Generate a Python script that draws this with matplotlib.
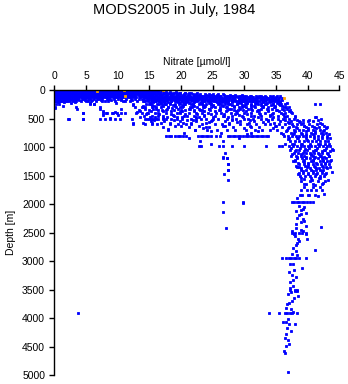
import matplotlib
matplotlib.use("Agg")
import matplotlib.pyplot as plt

plt.rcParams['font.family'] = ['Liberation Sans', 'DejaVu Sans']

# nitrate [umol/l] observed at each sampled depth [m]
levels = [0, 10, 20, 30, 50, 60, 75, 90, 100, 110, 115, 125, 135, 140, 150,
          160, 165, 175, 185, 190, 200, 210, 225, 240, 250, 260, 275, 290,
          300, 325, 350, 375, 400, 425, 450, 475, 500, 525, 550, 575, 600,
          625, 650, 675, 700, 725, 750, 775, 805, 850, 900, 950, 988, 1025,
          1050, 1075, 1100, 1125, 1150, 1175, 1200, 1225, 1250, 1275, 1300,
          1325, 1350, 1375, 1400, 1425, 1450, 1475, 1500, 1550, 1600, 1650,
          1700, 1750, 1850, 1960, 2500, 2950, 3500, 3920]

level_no3 = [
    # 0
    [0.0, 0.3, 0.6, 0.8, 1.1, 1.4, 1.7, 2.0, 2.2, 2.5, 2.8, 3.1, 3.4, 3.7, 3.9,
     4.2, 4.5, 4.8, 5.1, 5.3, 5.6, 5.9, 6.2, 6.5, 6.8, 7.0, 7.3, 7.6, 7.9, 8.2,
     8.5, 8.7, 9.0, 9.3, 9.6, 9.9, 10.2, 10.4, 10.7, 11.0, 11.3, 11.6, 11.9,
     12.1, 12.4, 12.7, 13.0, 13.3, 13.7, 14.2, 15.0],
    # 10
    [0.4, 1.9, 3.3, 5.2, 7.7, 9.4, 11.8, 13.5, 14.6, 15.6, 16.2],
    # 20
    [0.1, 0.4, 0.7, 1.0, 1.3, 1.5, 1.8, 2.1, 2.4, 2.7, 3.0, 3.2, 3.5, 3.8, 4.1,
     4.4, 4.7, 4.9, 5.2, 5.5, 5.8, 6.1, 6.4, 6.6, 6.9, 7.2, 7.5, 7.8, 8.1, 8.3,
     8.6, 8.9, 9.2, 9.5, 9.8, 10.0, 10.3, 10.6, 10.9, 11.2, 11.5, 11.7, 12.0,
     12.3, 12.6, 12.9, 13.2, 13.4, 13.8, 14.1, 14.5, 14.8, 15.2, 15.6, 15.9,
     16.4, 17.0],
    # 30
    [0.2, 2.9, 6.0, 8.8, 12.2, 14.3, 15.4, 16.7, 17.6, 18.3, 19.2],
    # 50
    [0.0, 0.3, 0.6, 0.9, 1.2, 1.4, 1.7, 2.0, 2.3, 2.6, 2.9, 3.1, 3.4, 3.7, 4.0,
     4.3, 4.6, 4.8, 5.1, 5.4, 5.7, 6.0, 6.3, 6.5, 6.8, 7.1, 7.4, 7.7, 8.0, 8.2,
     8.5, 8.8, 9.1, 9.4, 9.7, 9.9, 10.2, 10.5, 10.8, 11.1, 11.4, 11.6, 11.9,
     12.2, 12.5, 12.8, 13.1, 13.4, 13.7, 14.0, 14.4, 14.7, 15.1, 15.5, 15.8,
     16.2, 16.6, 17.3, 17.7, 18.1, 18.8, 19.4, 19.9, 20.6, 21.3],
    # 60
    [14.2, 15.0, 15.8, 16.5, 17.4, 18.2, 19.0, 19.8, 20.7, 21.6, 22.5],
    # 75
    [0.1, 0.4, 0.7, 1.0, 1.3, 1.6, 1.8, 2.1, 2.4, 2.7, 3.0, 3.3, 3.5, 3.8, 4.1,
     4.4, 4.7, 5.0, 5.2, 5.5, 5.8, 6.1, 6.4, 6.7, 6.9, 7.2, 7.5, 7.8, 8.1, 8.4,
     8.6, 8.9, 9.2, 9.5, 9.8, 10.1, 10.3, 10.6, 10.9, 11.2, 11.5, 11.8, 12.0,
     12.3, 12.6, 12.9, 13.2, 13.5, 13.9, 14.2, 14.6, 14.9, 15.3, 15.7, 16.0,
     16.5, 16.9, 17.2, 17.8, 18.4, 18.7, 19.3, 19.8, 20.5, 21.1, 21.9, 22.4,
     23.0, 23.8, 24.4, 25.1, 25.9, 26.6],
    # 90
    [14.4, 15.3, 16.0, 16.9, 17.8, 18.5, 19.4, 20.4, 21.2, 22.1, 22.9, 23.9,
     24.8, 25.7, 26.8, 27.7, 28.6, 29.7],
    # 100
    [0.0, 0.3, 0.6, 0.9, 1.2, 1.5, 1.7, 2.0, 2.3, 2.6, 2.9, 3.2, 3.4, 3.7, 4.0,
     4.3, 4.6, 4.9, 5.1, 5.4, 5.7, 6.0, 6.3, 6.6, 6.8, 7.1, 7.4, 7.7, 8.0, 8.3,
     8.5, 8.8, 9.1, 9.4, 9.7, 10.0, 10.2, 10.5, 10.8, 11.1, 11.4, 11.7, 12.1,
     12.5, 12.8, 13.3, 13.7, 14.0, 14.6, 15.0, 15.4, 16.1, 16.4, 17.0, 17.5,
     18.2, 18.6, 19.1, 19.7, 20.2, 20.8, 21.5, 22.0, 22.7, 23.3, 23.7, 24.3,
     25.0, 25.4, 26.1, 26.9, 27.4, 28.2, 28.7, 29.5, 30.3, 31.1, 32.6, 34.0,
     35.1],
    # 110
    [13.8, 14.9, 15.6, 16.7, 17.6, 18.4, 19.3, 20.5, 21.1, 22.3, 23.1, 24.2,
     25.0, 26.2, 27.2, 28.1, 29.1, 30.0, 30.9, 31.8, 32.4, 33.2, 34.6, 35.6],
    # 115
    [14.7, 15.9, 17.3, 18.6, 19.9, 21.4, 22.8, 24.0, 25.6, 27.1, 28.5, 29.8,
     31.4, 32.9, 34.3],
    # 125
    [0.1, 0.4, 0.7, 1.0, 1.2, 1.5, 1.8, 2.1, 2.4, 2.7, 3.0, 3.3, 3.5, 3.8, 4.1,
     4.4, 4.7, 5.0, 5.2, 5.5, 5.8, 6.1, 6.4, 6.7, 7.0, 7.3, 7.6, 7.9, 8.2, 8.4,
     8.8, 9.3, 9.6, 9.9, 10.4, 10.7, 11.0, 11.6, 11.9, 12.4, 12.9, 13.6, 14.1,
     14.4, 15.2, 15.6, 16.3, 16.8, 17.6, 18.0, 18.9, 19.4, 20.0, 20.7, 21.3,
     21.8, 22.5, 23.1, 23.9, 24.6, 25.2, 25.8, 26.4, 27.0, 27.8, 28.4, 29.0,
     29.9, 30.6, 31.2, 32.0, 32.5, 33.4, 34.2, 35.0],
    # 135
    [14.6, 15.4, 16.6, 17.2, 18.5, 19.1, 20.3, 21.1, 22.0, 22.9, 24.0, 24.7,
     25.5, 26.6, 27.3, 28.2, 29.4, 30.1, 31.0, 31.9, 32.8, 33.8, 34.7, 35.5],
    # 140
    [15.0, 16.4, 17.9, 19.2, 20.8, 22.1, 23.5, 24.9, 26.3, 27.6, 29.2, 30.7,
     32.2, 33.6, 35.9],
    # 150
    [0.0, 0.3, 0.6, 0.9, 1.2, 1.5, 1.8, 2.0, 2.3, 2.6, 2.9, 3.2, 3.5, 3.8, 4.3,
     4.6, 4.9, 5.4, 5.7, 6.2, 6.8, 7.1, 7.6, 8.3, 8.7, 9.4, 10.0, 10.6, 11.3,
     12.1, 12.7, 13.4, 14.2, 14.9, 15.5, 16.2, 16.9, 17.4, 18.1, 18.8, 19.6,
     20.4, 21.0, 21.7, 22.3, 23.0, 23.6, 24.5, 25.1, 26.0, 26.7, 27.5, 28.3,
     29.1, 29.6, 30.4, 31.3, 31.9, 32.6, 33.5, 34.4, 35.4],
    # 160
    [13.9, 15.7, 16.6, 18.3, 19.7, 21.2, 22.6, 24.0, 25.5, 26.9, 28.0, 29.9,
     31.6, 33.1, 34.8],
    # 165
    [0.5, 1.5, 2.4, 3.4, 14.8, 15.9, 16.8, 17.6, 18.8, 19.9, 20.6, 21.6, 22.4,
     23.3, 24.4, 25.3, 26.2, 27.2, 28.2, 29.1, 30.0, 30.9, 31.9, 32.9, 33.9,
     34.9],
    # 175
    [0.0, 0.4, 0.8, 1.3, 1.7, 2.2, 2.6, 3.1, 3.9, 4.8, 6.0, 7.4, 9.0, 10.5,
     12.3, 14.6, 15.4, 16.1, 17.0, 17.8, 18.5, 19.4, 20.2, 21.0, 21.9, 22.7,
     23.5, 24.3, 25.1, 26.0, 26.8, 27.6, 28.5, 29.3, 30.2, 31.0, 31.8, 32.7,
     33.5, 34.3, 35.2, 36.0],
    # 185
    [0.2, 1.1, 2.0, 14.1, 15.2, 16.5, 17.3, 18.4, 19.5, 20.9, 21.6, 22.5, 23.6,
     24.6, 25.6, 26.6, 27.5, 28.8, 29.9, 30.8, 32.0, 33.2, 34.2, 35.3],
    # 190
    [5.3, 8.0, 11.1, 14.3, 15.9, 17.6, 19.0, 20.6, 22.0, 23.7, 25.0, 26.5,
     28.1, 29.7, 31.4, 33.0, 34.6],
    # 200
    [0.0, 0.3, 0.7, 1.0, 1.4, 1.8, 2.3, 2.9, 3.5, 4.2, 5.0, 5.8, 6.6, 7.5, 8.5,
     9.6, 10.8, 11.9, 13.1, 14.0, 14.8, 15.7, 16.6, 17.3, 18.4, 19.2, 20.0,
     21.1, 22.2, 23.4, 24.1, 25.3, 26.2, 27.1, 28.6, 29.4, 30.0, 31.2, 32.3,
     33.0, 33.9, 34.8, 35.7],
    # 210
    [0.6, 1.6, 3.2, 15.6, 16.9, 18.0, 19.5, 20.8, 22.0, 23.2, 24.6, 25.7, 26.9,
     28.1, 29.2, 30.5, 31.7, 32.9, 34.1, 35.3],
    # 225
    [2.6, 9.8, 15.1, 16.8, 18.2, 19.9, 21.3, 23.0, 24.4, 26.0, 27.4, 29.0,
     30.4, 32.0, 33.6, 35.1, 36.7],
    # 240
    [14.9, 16.2, 17.7, 19.1, 20.5, 21.9, 23.3, 24.8, 26.1, 27.5, 28.9, 30.3,
     31.7, 33.2, 34.5, 35.8],
    # 250
    [0.2, 0.8, 5.6, 6.3, 12.5, 14.5, 15.3, 16.6, 17.5, 18.3, 19.7, 20.6, 21.6,
     22.8, 23.9, 24.7, 25.8, 27.0, 27.8, 28.9, 30.1, 31.0, 32.2, 33.4, 34.6,
     35.5, 36.4, 41.2, 41.9],
    # 260
    [15.5, 17.0, 18.8, 20.1, 21.9, 23.5, 25.0, 26.5, 28.0, 29.6, 31.1, 32.6,
     34.2, 35.7],
    # 275
    [1.4, 14.0, 15.8, 17.2, 19.0, 20.4, 22.1, 23.8, 25.1, 26.7, 28.3, 29.9,
     31.5, 33.0, 34.8, 36.0],
    # 290
    [14.3, 16.1, 18.0, 19.8, 21.7, 23.6, 25.4, 27.3, 29.1, 31.0, 32.8, 34.7,
     36.6],
    # 300
    [0.1, 3.5, 7.2, 12.8, 14.0, 15.4, 16.8, 17.9, 19.2, 20.1, 21.4, 22.6, 23.5,
     24.8, 26.2, 27.1, 28.4, 29.6, 30.3, 31.7, 32.9, 33.8, 34.9, 36.2, 37.1],
    # 325
    [14.4, 16.0, 17.8, 19.6, 21.2, 22.9, 24.4, 26.1, 27.9, 29.4, 31.0, 32.7,
     34.4, 35.9],
    # 350
    [13.3, 14.9, 16.3, 17.6, 18.9, 20.7, 22.0, 23.4, 24.6, 26.0, 27.2, 28.4,
     29.8, 31.2, 32.4, 33.7, 35.0, 36.3, 37.2],
    # 375
    [13.6, 15.2, 17.1, 18.4, 20.2, 22.0, 23.6, 25.4, 27.1, 28.7, 30.2, 32.0,
     33.7, 35.5, 37.0],
    # 400
    [4.6, 7.7, 8.3, 9.1, 9.9, 10.5, 12.9, 13.9, 14.8, 15.9, 16.4, 17.7, 19.3,
     19.8, 21.2, 22.4, 23.3, 24.2, 25.5, 26.4, 27.9, 28.8, 29.9, 31.0, 32.4,
     33.3, 34.6, 35.8, 36.5, 37.6],
    # 425
    [14.5, 16.6, 18.5, 20.7, 22.6, 24.7, 26.8, 28.6, 30.4, 32.5, 34.3, 36.1],
    # 450
    [14.1, 15.5, 17.1, 18.9, 20.5, 22.0, 23.6, 25.3, 26.7, 28.1, 29.6, 31.0,
     32.6, 34.0, 35.4, 36.8],
    # 475
    [15.1, 17.8, 20.2, 22.8, 25.0, 27.5, 29.8, 32.2, 34.6, 36.4, 41.4],
    # 500
    [2.2, 4.5, 7.2, 8.0, 8.8, 9.6, 10.4, 12.2, 14.3, 14.6, 15.0, 15.3, 15.6,
     16.0, 16.4, 17.2, 17.7, 18.4, 19.3, 20.1, 21.6, 22.4, 23.2, 24.0, 25.1,
     25.9, 27.2, 28.0, 28.7, 29.9, 30.6, 31.4, 32.7, 33.5, 34.4, 35.3, 36.1,
     37.0, 37.8],
    # 525
    [15.8, 18.9, 21.9, 24.9, 28.1, 30.9, 33.7, 36.5, 38.3, 40.2],
    # 550
    [15.2, 17.4, 19.8, 22.3, 24.7, 26.9, 29.3, 31.5, 33.8, 35.6, 37.3, 38.6,
     40.9],
    # 575
    [16.9, 20.4, 23.9, 27.6, 30.8, 34.7, 37.0, 39.3, 41.9],
    # 600
    [12.4, 14.3, 15.4, 16.2, 18.2, 19.6, 20.8, 21.6, 23.3, 25.4, 26.5, 27.6,
     29.4, 30.5, 31.9, 33.2, 34.1, 35.5, 36.4, 37.5, 38.4, 39.0, 40.2, 41.5,
     42.3],
    # 625
    [19.0, 22.9, 26.7, 30.9, 34.8, 37.7, 39.4, 40.7, 42.6],
    # 650
    [17.1, 21.2, 24.5, 28.2, 32.3, 36.0, 38.1, 39.8, 41.8, 43.0],
    # 675
    [23.5, 29.9, 34.6, 36.9, 38.4, 40.0, 41.4, 42.9],
    # 700
    [18.0, 22.2, 24.1, 25.7, 27.2, 28.6, 30.3, 31.7, 32.8, 34.0, 35.2, 36.8,
     37.9, 38.6, 39.3, 40.1, 40.8, 41.9, 42.6],
    # 725
    [24.7, 32.1, 36.6, 38.0, 39.7, 41.1, 42.4],
    # 750
    [20.5, 26.3, 31.1, 35.8, 37.3, 38.9, 40.5, 42.1],
    # 775
    [30.4, 36.1, 37.7, 39.1, 40.9, 42.5, 43.3],
    # 805
    [17.7, 18.1, 18.5, 19.1, 19.5, 19.9, 20.3, 20.8, 22.7, 23.1, 23.5, 23.9,
     24.3, 24.8, 25.6, 26.1, 27.4, 27.8, 28.2, 28.6, 29.0, 29.4, 29.8, 30.2,
     30.6, 31.0, 31.4, 31.8, 32.2, 32.6, 33.0, 33.4, 33.8, 36.3, 36.9, 37.5,
     38.1, 38.7, 39.3, 39.8, 40.3, 41.0, 41.6, 42.3, 43.1],
    # 850
    [21.2, 29.1, 37.0, 38.5, 39.8, 41.0, 42.3, 43.5],
    # 900
    [23.0, 26.6, 37.2, 38.0, 38.6, 39.5, 40.0, 40.7, 41.3, 42.0, 42.8, 43.2],
    # 950
    [24.8, 36.5, 37.9, 39.0, 40.3, 41.6, 42.7],
    # 988
    [22.8, 23.2, 26.0, 26.6, 28.1, 30.0, 33.5, 35.5, 36.0, 37.1, 37.7, 38.3,
     38.9, 39.4, 40.0, 40.6, 41.2, 41.8, 42.4, 43.0, 43.5],
    # 1025
    [37.4, 38.8, 40.2, 41.5, 42.9],
    # 1050
    [37.2, 38.6, 39.9, 41.3, 42.8, 44.0],
    # 1075
    [38.0, 39.4, 40.9, 42.2, 43.6],
    # 1100
    [27.0, 37.9, 38.5, 39.2, 39.8, 40.4, 41.0, 41.6, 42.3, 43.1],
    # 1125
    [37.6, 39.0, 40.5, 41.8, 43.2],
    # 1150
    [38.1, 39.4, 40.8, 42.1, 43.4],
    # 1175
    [38.3, 39.8, 41.2, 42.6],
    # 1200
    [26.7, 27.2, 38.4, 39.1, 39.7, 40.3, 41.0, 41.6, 42.2, 42.9],
    # 1225
    [38.0, 39.5, 40.9, 42.4, 43.7],
    # 1250
    [37.7, 39.3, 40.6, 41.9, 43.0],
    # 1275
    [38.5, 40.0, 41.4, 42.8],
    # 1300
    [27.4, 38.7, 39.5, 40.1, 40.9, 41.5, 42.1, 42.8, 43.4],
    # 1325
    [38.2, 39.6, 41.0, 42.3],
    # 1350
    [38.3, 39.9, 41.2, 42.4, 43.6],
    # 1375
    [38.9, 40.4, 41.8, 43.1],
    # 1400
    [27.4, 39.0, 39.8, 40.6, 41.3, 42.0, 42.5],
    # 1425
    [39.3, 40.8, 42.2],
    # 1450
    [38.6, 40.1, 41.5, 42.9],
    # 1475
    [38.5, 40.0, 41.4, 42.7],
    # 1500
    [38.8, 39.6, 40.4, 41.1, 41.9, 42.6],
    # 1550
    [39.0, 40.5, 41.8],
    # 1600
    [38.9, 40.3, 41.6, 42.8],
    # 1650
    [39.5, 40.9, 42.2],
    # 1700
    [39.4, 40.8, 42.0],
    # 1750
    [39.0, 39.9, 40.6, 41.4, 42.3],
    # 1850
    [38.8, 40.0, 41.2],
    # 1960
    [26.6, 29.8, 37.5, 37.9, 38.3, 38.7, 39.1, 39.5, 39.9, 40.4, 40.9],
    # 2500
    [37.5, 38.0, 38.6, 39.1, 39.8],
    # 2950
    [35.9, 36.6, 37.0, 37.4, 37.8, 38.2, 38.7, 39.8],
    # 3500
    [37.2, 38.0, 38.3],
    # 3920
    [3.8, 33.9, 35.5, 36.4, 36.8, 37.2, 37.6, 38.3],
]

# single samples off the regular depths
extra_no3 = [
    0.1, 2.3, 3.6, 4.6, 4.5, 5.6, 6.3, 7.2, 7.7, 7.7, 8.1, 8.8, 9.3, 9.6, 10.0,
    10.6, 11.2, 12.4, 12.5, 13.0, 13.5, 13.8, 14.0, 14.6, 15.4, 15.9, 17.2,
    18.0, 18.2, 19.3, 19.8, 20.9, 22.2, 21.6, 22.4,
    14.8, 16.1, 17.4, 18.9, 20.3, 21.8, 23.4, 24.9, 26.5, 28.0, 29.5, 31.0,
    32.6, 34.1, 35.7, 15.6, 17.0, 18.6, 20.0, 21.5, 23.0, 24.5, 26.1, 27.6,
    29.0, 30.6, 32.1, 33.6, 35.2, 36.8, 16.3, 18.8, 21.0, 23.7, 26.8, 29.2,
    31.6, 34.0, 36.3, 38.0, 24.5, 28.8, 33.0, 36.9, 38.8, 20.0, 24.0, 27.0,
    31.0, 35.0, 37.0, 39.5, 41.0, 38.0, 39.3, 40.1, 37.4, 41.2, 42.1, 41.6,
    37.8, 39.7, 41.2, 42.9, 36.9, 38.4, 39.9, 41.6, 43.0, 37.6, 39.1, 40.4,
    41.9, 43.4, 38.2, 39.6, 41.1, 42.6, 43.8, 37.4, 38.9, 40.6, 42.0, 43.3,
    38.0, 39.4, 40.8, 42.4, 43.6, 38.6, 40.0, 41.4, 42.9, 39.2, 40.9, 42.2,
    43.8, 39.4, 40.7, 42.0, 43.2, 39.8, 41.2, 42.5, 39.1, 40.2, 41.7, 42.6,
    38.4, 39.4, 38.9, 39.7, 38.6, 39.3, 38.9, 39.8, 42.1, 38.2, 37.5, 39.3,
    39.7, 38.0, 38.5, 39.9, 38.4, 37.7, 38.1, 41.2, 37.2, 37.7, 39.1, 37.5,
    37.7, 37.2, 37.7, 37.2, 38.0, 38.3, 36.9, 38.5, 37.5, 36.7, 37.1, 37.7,
    36.1, 36.6, 37.1, 38.0, 36.8, 36.6, 37.1, 36.6, 36.3, 36.9,
    26.6, 27.2, 27.4, 27.4, 26.8, 27.4, 26.6, 27.1, 29.8,
    38.6, 39.2, 38.2, 39.0, 38.4, 39.5, 38.1, 38.9, 37.9, 38.7, 38.2, 37.5,
    38.4, 37.8, 37.1, 38.2, 37.4, 37.9, 36.6, 37.3, 36.9, 37.4, 36.4, 36.9,
    36.5,
]
extra_depth = [
    310, 515, 340, 400, 515, 225, 240, 340, 370, 430, 405, 485, 410, 390, 430,
    335, 410, 585, 270, 390, 470, 300, 585, 410, 585, 470, 495,
    690, 570, 470, 380, 525, 700, 585, 470,
    175, 190, 230, 175, 215, 180, 230, 180, 215, 175, 220, 185,
    225, 175, 210, 330, 350, 320, 345, 330, 355, 325, 350, 330,
    355, 330, 350, 325, 345, 330, 450, 440, 455, 440, 450, 440,
    455, 440, 455, 460, 560, 560, 555, 560, 560, 640, 650, 640,
    650, 640, 650, 640, 650, 470, 520, 540, 380, 470, 500, 520,
    760, 770, 760, 750, 860, 850, 870, 860, 850, 950, 940, 960,
    950, 940, 1050, 1040, 1060, 1050, 1040, 1150, 1160, 1140, 1150, 1160,
    1250, 1260, 1240, 1250, 1250, 1350, 1340, 1360, 1350, 1450, 1460, 1450,
    1430, 1560, 1570, 1550, 1580, 1650, 1660, 1640, 1850, 1840, 1860, 1820,
    1900, 2050, 2100, 2150, 2200, 2260, 2320, 2380, 2400, 2420, 2475, 2475,
    2530, 2560, 2610, 2610, 2690, 2770, 2830, 2800, 3060, 3060, 3120, 3240,
    3330, 3375, 3430, 3470, 3520, 3520, 3580, 3610, 3700, 3760, 3740, 3890,
    4076, 4076, 4110, 4110, 4180, 4280, 4460, 4490, 4580, 4950,
    1180, 1200, 1290, 1400, 1470, 1575, 2140, 2415, 1990,
    2030, 2080, 2130, 2180, 2240, 2290, 2350, 2450, 2520, 2650, 2720, 2870,
    2900, 3150, 3200, 3280, 3550, 3650, 3820, 3850, 4020, 4220, 4350, 4390,
    4620,
]

# flagged samples
flag_no3 = [6.7, 11.0, 11.2, 17.2, 36.2]
flag_depth = [18, 5, 105, 5, 140]

no3 = []
depth = []
for lvl, vals in zip(levels, level_no3):
    no3 += vals
    depth += [lvl] * len(vals)
no3 += extra_no3
depth += extra_depth

fig = plt.figure(figsize=(3.48, 3.84), dpi=100)
ax = fig.add_axes([0.156, 0.0234, 0.819, 0.7422])

ax.plot(no3, depth, 's', color='#0000ff', ms=2.0, mew=0.6, antialiased=False)
ax.plot(flag_no3, flag_depth, 's', color='#ffa500', ms=2.0, mew=0.6,
        antialiased=False)

ax.set_xlim(0, 45)
ax.set_ylim(5000, 0)
ax.set_xticks(range(0, 46, 5))
ax.set_yticks(range(0, 5001, 500))

ax.xaxis.tick_top()
ax.xaxis.set_label_position('top')
ax.spines['right'].set_visible(False)
ax.spines['bottom'].set_visible(False)
for s in ('left', 'top'):
    ax.spines[s].set_linewidth(1.0)
ax.tick_params(direction='out', length=3.6, width=1.0, labelsize=7.5, pad=3)

ax.set_xlabel('Nitrate [µmol/l]', fontsize=7.5, labelpad=4)
ax.set_ylabel('Depth [m]', fontsize=7.5, labelpad=4)
fig.suptitle('MODS2005 in July, 1984', fontsize=10.5, y=0.993)

fig.savefig('out.png', dpi=100)
